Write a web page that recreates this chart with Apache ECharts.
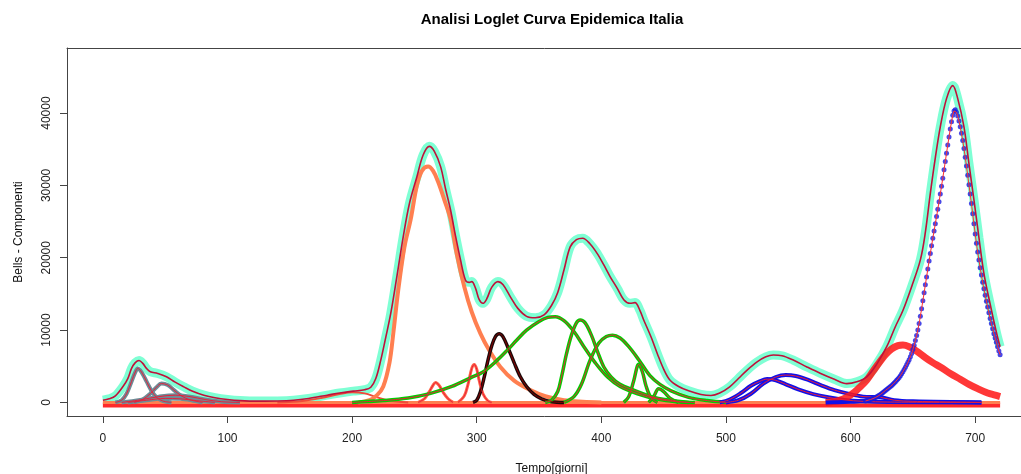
<!DOCTYPE html>
<html>
<head>
<meta charset="utf-8">
<script src="https://cdn.jsdelivr.net/npm/echarts@6/dist/echarts.min.js"></script>
<style>
  html, body { margin: 0; padding: 0; background: #fff; }
  #chart { width: 1021px; height: 474px; }
</style>
</head>
<body>
<div id="chart"></div>
<script>
// curva totale (fit)
const totalDays = [0, 5, 10, 16, 20, 23, 26, 29, 32, 35, 38, 44, 51, 58, 65, 72, 81, 90, 100, 110,
  125, 140, 153, 165, 180, 190, 201, 210, 215, 219, 223, 227, 231, 236, 241, 246, 252, 257, 262, 266,
  271, 275, 279, 283, 287, 291, 294, 296, 299, 302, 305, 308, 312, 317, 321, 327, 333, 340, 347, 354,
  360, 365, 370, 375, 380, 385, 391, 397, 402, 407, 413, 418, 423, 427, 431, 434, 440, 445, 450, 455,
  462, 470, 480, 488, 495, 503, 510, 517, 525, 532, 538, 545, 554, 565, 576, 587, 597, 605, 613, 621,
  629, 636, 642, 649, 656, 660, 664, 668, 672, 677, 682, 686, 691, 695, 699, 703, 707, 712, 717, 720]
const totalVals = [300, 500, 900, 2160, 3300, 4700, 5500, 5800, 5400, 4700, 4250, 4000, 3550, 2800, 2150, 1550, 1000, 650, 400, 250,
  180, 200, 300, 550, 1000, 1300, 1560, 1750, 2100, 3300, 5850, 9000, 12300, 17500, 22900, 27500, 31200, 34200, 35400, 34700,
  32600, 29500, 26600, 23000, 19700, 16900, 16600, 16700, 15800, 14200, 13700, 14300, 15900, 16700, 16300, 14600, 13000, 11900, 11700, 12100,
  13400, 15200, 18300, 21500, 22500, 22700, 21900, 20500, 19000, 17400, 15700, 14200, 13700, 13800, 12700, 11400, 9000, 6700, 4600, 3100,
  2200, 1600, 1100, 950, 1300, 2160, 3300, 4470, 5600, 6300, 6550, 6450, 5850, 4900, 4000, 3200, 2600, 2850, 3540, 5300,
  7700, 10500, 12700, 16000, 19700, 23500, 28900, 33800, 38100, 42000, 43800, 42000, 38100, 33000, 28000, 22800, 17850, 13600, 9700, 7700]

// componenti grigie (prima ondata)
const g1Days = [10, 15, 19, 23, 26, 28, 31, 35, 39, 43, 48, 55]
const g1Vals = [0, 300, 1200, 2900, 4200, 4700, 4200, 2900, 1600, 700, 200, 0]
const g2Days = [25, 32, 38, 43, 47, 52, 57, 63, 70, 80]
const g2Vals = [0, 400, 1200, 2100, 2600, 2400, 1700, 900, 350, 0]
const g3Days = [15, 30, 45, 58, 70, 82, 95, 110]
const g3Vals = [0, 350, 800, 1000, 800, 400, 100, 0]
const g4Days = [20, 35, 50, 62, 75, 90]
const g4Vals = [0, 300, 550, 500, 250, 0]

// componente piccola ~ giorno 200
const s0Days = [140, 160, 175, 190, 200, 210, 220, 230, 245]
const s0Vals = [0, 200, 600, 1150, 1400, 1250, 700, 250, 0]

// seconda ondata
const coralDays = [205, 214, 220, 225, 230, 233, 237, 242, 247, 252, 256, 261, 265, 269, 274, 279, 284, 290, 296, 303, 310, 319, 330, 343, 355, 370, 385, 400]
const coralVals = [0, 300, 1000, 2200, 5500, 9500, 15500, 21500, 25300, 30000, 32000, 32600, 32000, 30500, 28000, 25300, 20500, 16000, 12500, 9500, 7200, 4900, 3000, 1700, 850, 300, 100, 0]
const t1Days = [253, 258, 262, 265, 267, 270, 273, 277, 281]
const t1Vals = [0, 500, 1500, 2400, 2750, 2300, 1400, 500, 0]
const t2Days = [285, 290, 293, 296, 298, 300, 302, 305, 309, 312]
const t2Vals = [0, 900, 2500, 4700, 5250, 4600, 3000, 1200, 200, 0]
const blackDays = [297, 300, 303, 306, 309, 312, 315, 318, 321, 325, 330, 335, 340, 346, 352, 360, 370]
const blackVals = [0, 300, 1500, 3500, 5800, 7800, 9100, 9500, 9100, 7600, 5500, 3540, 2200, 1100, 500, 100, 0]

// componenti verdi
const gADays = [200, 225, 245, 263, 280, 295, 305, 315, 325, 332, 340, 350, 357, 363, 370, 378, 386, 395, 405, 415, 429, 445, 460, 475]
const gAVals = [0, 250, 600, 1250, 2200, 3400, 4200, 5600, 7300, 8600, 10000, 11200, 11750, 11850, 11300, 9800, 7700, 5500, 3500, 2200, 1200, 450, 100, 0]
const gBDays = [355, 360, 365, 368, 372, 376, 380, 383, 387, 392, 397, 402, 408, 415, 426, 440, 455, 470]
const gBVals = [0, 300, 1500, 3500, 6700, 9300, 11000, 11400, 11000, 9300, 7000, 4900, 3500, 2500, 1700, 800, 300, 0]
const gCDays = [370, 378, 384, 391, 398, 404, 409, 415, 422, 430, 439, 447, 456, 470, 485, 500]
const gCVals = [0, 800, 2500, 5850, 8200, 9100, 9300, 8900, 7700, 5900, 3700, 2500, 1600, 700, 250, 0]
const gDDays = [418, 422, 426, 430, 433, 436, 440, 445]
const gDVals = [0, 800, 3000, 5260, 4200, 2200, 600, 0]
const gEDays = [438, 442, 446, 450, 455, 462]
const gEVals = [0, 800, 1900, 1500, 600, 0]

// componenti blu
const bADays = [495, 503, 512, 520, 527, 533, 540, 548, 558, 570, 582, 595, 610, 630, 705]
const bAVals = [0, 400, 1300, 2300, 2900, 3220, 3050, 2500, 1800, 1150, 700, 350, 150, 50, 0]
const bBDays = [500, 510, 520, 530, 540, 548, 556, 566, 576, 587, 597, 610, 624, 635, 650, 705]
const bBVals = [0, 300, 1200, 2600, 3500, 3780, 3650, 3100, 2400, 1700, 1250, 800, 700, 300, 150, 0]
const bigBlueTailDays = [580, 590, 600, 606, 612]
const bigBlueTailVals = [0, 30, 80, 130, 200]
const bigBlueStart = 612 // valori giornalieri dal giorno 612 al 720
const bigBlueVals = [200, 250, 300, 350, 400, 460, 530, 600, 680, 770, 870, 980, 1100, 1230, 1370, 1520, 1650, 1780,
  1920, 2060, 2200, 2350, 2500, 2680, 2860, 3050, 3250, 3450, 3700, 3950, 4250, 4550, 4850, 5200, 5550, 5900, 6300, 6750,
  7300, 7900, 8550, 9250, 10000, 10900, 11900, 12950, 14050, 15150, 16250, 17350, 18450, 19550, 20600, 21650, 22700, 23700,
  24700, 25700, 26700, 27750, 28800, 29900, 31000, 32150, 33300, 34450, 35600, 36700, 37800, 38800, 39700, 40300, 40450,
  40100, 39600, 38900, 38100, 37200, 36200, 35100, 33900, 32700, 31400, 30100, 28800, 27500, 26100, 24700, 23300, 22000,
  20800, 19700, 18600, 17600, 16600, 15700, 14800, 14000, 13200, 12400, 11600, 10900, 10200, 9500, 8900, 8300, 7700, 7100, 6600]

// componente rossa (terza ondata)
const redDays = [580, 590, 597, 603, 608, 613, 618, 623, 628, 633, 638, 642, 647, 653, 660, 666, 672, 680, 688, 695, 702, 710, 716, 720]
const redVals = [0, 250, 700, 1400, 2200, 3090, 4300, 5500, 6600, 7400, 7850, 7930, 7700, 7100, 6200, 5500, 4900, 4000, 3200, 2500, 1900, 1300, 1000, 800]

// linee di base
const baseDays = [0, 720]
const baseZeroVals = [0, 0]
const baseRedVals = [-350, -350]
const greenBaseDays = [200, 500]
const blueBaseDays = [240, 705]

const xTicks = [0, 100, 200, 300, 400, 500, 600, 700]
const yTicks = [0, 10000, 20000, 30000, 40000]

const chart = echarts.init(document.getElementById('chart'))

function pairs (d, v) {
  return d.map((x, i) => [x, v[i]])
}

function line (data, color, width, z, extra) {
  return Object.assign({
    type: 'line',
    data: data,
    smooth: 0.35,
    symbol: 'none',
    silent: true,
    z: z,
    lineStyle: { color: color, width: width }
  }, extra || {})
}

// componente: banda colorata + linea rossa sottile sopra
function comp (d, v, color, width) {
  return [
    line(pairs(d, v), color, width, 3),
    line(pairs(d, v), '#e8203a', 1, 4)
  ]
}

const bigBlueData = bigBlueVals.map((v, i) => [bigBlueStart + i, v])

const series = [
  line(pairs(totalDays, totalVals), '#7fffd4', 9, 1),
  line(pairs(baseDays, baseRedVals), '#ff2a2a', 5, 2, { smooth: false }),
  line(pairs(greenBaseDays, baseZeroVals), '#00cd00', 3, 2, { smooth: false }),
  line(pairs(blueBaseDays, baseZeroVals), '#3030e0', 2, 2, { smooth: false }),
  line(pairs(baseDays, baseZeroVals), '#ff7f50', 3, 2, { smooth: false }),
  ...comp(g1Days, g1Vals, '#6e8b96', 4),
  ...comp(g2Days, g2Vals, '#6e8b96', 4),
  ...comp(g3Days, g3Vals, '#6e8b96', 4),
  ...comp(g4Days, g4Vals, '#6e8b96', 4),
  line(pairs(s0Days, s0Vals), '#f04a3a', 2, 3),
  line(pairs(coralDays, coralVals), '#ff7f50', 4, 3),
  ...comp(t1Days, t1Vals, '#ff6347', 3),
  ...comp(t2Days, t2Vals, '#ff6347', 3),
  line(pairs(blackDays, blackVals), '#1a0a0a', 3.5, 3),
  line(pairs(blackDays, blackVals), '#8b0000', 1, 4),
  ...comp(gADays, gAVals, '#00cd00', 3.5),
  ...comp(gBDays, gBVals, '#00cd00', 3.5),
  ...comp(gCDays, gCVals, '#00cd00', 3.5),
  ...comp(gDDays, gDVals, '#00cd00', 3.5),
  ...comp(gEDays, gEVals, '#00cd00', 3.5),
  ...comp(bADays, bAVals, '#1010e8', 4),
  ...comp(bBDays, bBVals, '#1010e8', 4),
  line(pairs(redDays, redVals), 'rgba(255,20,20,0.85)', 7, 3),
  line(pairs(bigBlueTailDays, bigBlueTailVals), '#1010e8', 4, 3),
  {
    type: 'scatter',
    data: bigBlueData,
    symbol: 'circle',
    symbolSize: 5,
    silent: true,
    z: 5,
    itemStyle: { color: '#1a1ae0' }
  },
  line(bigBlueData, '#ff3030', 1, 6, { smooth: false }),
  line(pairs(totalDays, totalVals), '#c0103a', 1.6, 7)
]

const labelFont = { fontFamily: 'Liberation Sans', fontSize: 12, color: '#222' }

const option = {
  animation: false,
  backgroundColor: '#ffffff',
  title: {
    text: 'Analisi Loglet Curva Epidemica Italia',
    left: 547,
    top: 7,
    textAlign: 'center',
    textStyle: {
      fontFamily: 'Liberation Sans',
      fontSize: 15,
      fontWeight: 'bold',
      color: '#000'
    }
  },
  grid: {
    left: 67,
    top: 48,
    width: 969,
    height: 368,
    outerBoundsMode: 'none',
    containLabel: false,
    show: false
  },
  xAxis: [
    {
      type: 'value',
      min: -28.8,
      max: 748.8,
      name: 'Tempo[giorni]',
      nameLocation: 'middle',
      nameGap: 47,
      nameTextStyle: { fontFamily: 'Liberation Sans', fontSize: 12, color: '#111' },
      axisLine: { show: true, onZero: false, lineStyle: { color: '#444', width: 1 } },
      splitLine: { show: false },
      axisTick: { show: true, length: 7, customValues: xTicks, lineStyle: { color: '#444' } },
      axisLabel: Object.assign({ customValues: xTicks, margin: 17 }, labelFont)
    },
    {
      // bordo superiore del riquadro
      type: 'value',
      position: 'top',
      min: -28.8,
      max: 748.8,
      axisLine: { show: true, onZero: false, lineStyle: { color: '#444', width: 1 } },
      axisTick: { show: false },
      axisLabel: { show: false },
      splitLine: { show: false }
    }
  ],
  yAxis: {
    type: 'value',
    min: -1880,
    max: 49000,
    name: 'Bells - Componenti',
    nameLocation: 'middle',
    nameGap: 42,
    nameTextStyle: { fontFamily: 'Liberation Sans', fontSize: 12, color: '#111' },
    axisLine: { show: true, onZero: false, lineStyle: { color: '#444', width: 1 } },
    splitLine: { show: false },
    axisTick: { show: true, length: 7, customValues: yTicks, lineStyle: { color: '#444' } },
    axisLabel: Object.assign({
      customValues: yTicks,
      rotate: 90,
      margin: 14,
      formatter: function (v) { return String(v) }
    }, labelFont)
  },
  series: series
}

chart.setOption(option)
</script>
</body>
</html>
